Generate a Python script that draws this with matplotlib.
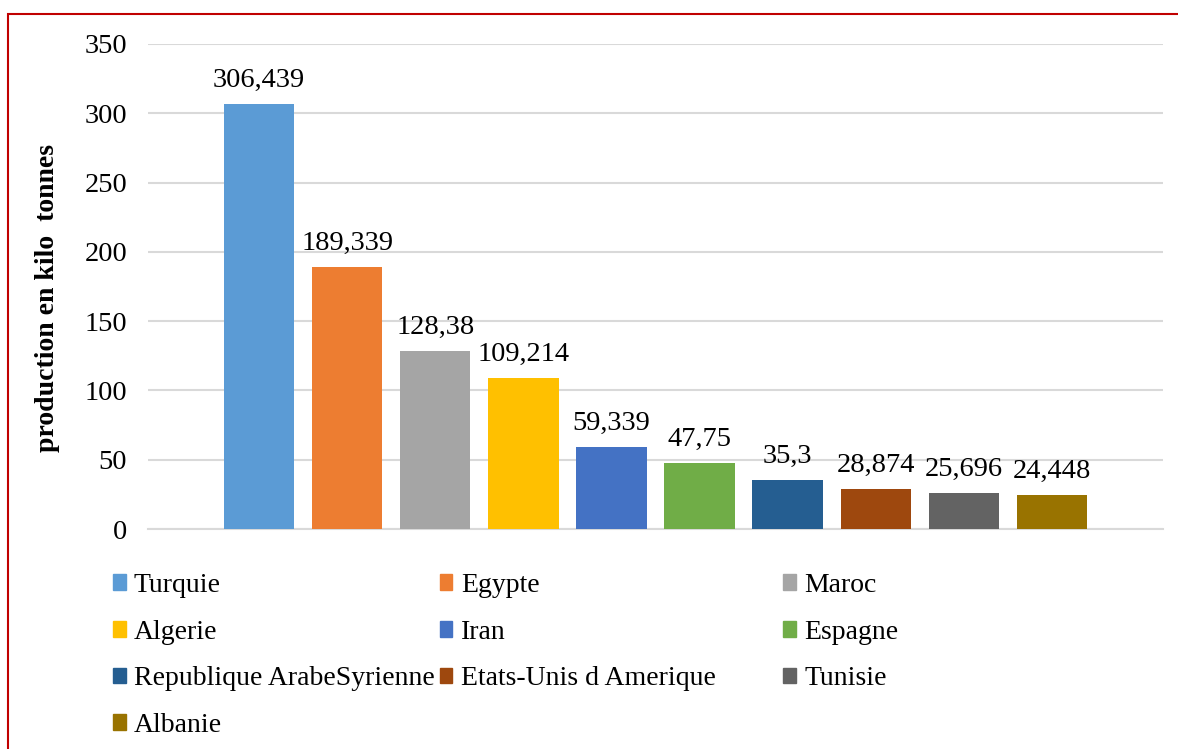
import matplotlib.pyplot as plt
from matplotlib.patches import Patch, Rectangle

pays = ['Turquie', 'Egypte', 'Maroc', 'Algerie', 'Iran', 'Espagne',
        'Republique ArabeSyrienne', 'Etats-Unis d Amerique', 'Tunisie', 'Albanie']
production = [306.439, 189.339, 128.38, 109.214, 59.339, 47.75, 35.3, 28.874, 25.696, 24.448]
couleurs = ['#5B9BD5', '#ED7D31', '#A5A5A5', '#FFC000', '#4472C4', '#70AD47',
            '#255E91', '#9E480E', '#636363', '#997300']

plt.rcParams['font.family'] = ['Liberation Serif', 'DejaVu Serif']

fig = plt.figure(figsize=(11.78, 7.49), dpi=100)
ax = fig.add_axes([0.1256, 0.2937, 0.8617, 0.6476])

x = list(range(len(pays)))
bars = ax.bar(x, production, width=0.8, color=couleurs, zorder=3)

for b, v in zip(bars, production):
    txt = str(v).replace('.', ',')
    ax.annotate(txt, (b.get_x() + b.get_width() / 2, v), xytext=(0, 8),
                textcoords='offset points', ha='center', va='bottom', fontsize=20.5)

ax.set_xlim(-1.26, len(pays) - 1 + 1.26)
ax.set_ylim(0, 350)
ax.set_yticks(range(0, 351, 50))
ax.set_xticks([])
ax.tick_params(axis='y', length=0, labelsize=20.5, pad=15)
ax.grid(axis='y', color='#D9D9D9', linewidth=1.5, zorder=0)
for s in ['top', 'right', 'left']:
    ax.spines[s].set_visible(False)
ax.spines['bottom'].set_color('#D9D9D9')
ax.spines['bottom'].set_linewidth(1.5)
ax.set_ylabel('production en kilo  tonnes', fontsize=20, fontweight='bold')
ax.yaxis.set_label_coords(-0.087, 0.476)

# legende en 3 colonnes (comme Excel)
colonnes = [[0, 3, 6, 9], [1, 4, 7], [2, 5, 8]]
positions = [0.096, 0.3735, 0.665]
for idx, xpos in zip(colonnes, positions):
    handles = [Patch(color=couleurs[i], label=pays[i]) for i in idx]
    leg = fig.legend(handles=handles, loc='upper left', bbox_to_anchor=(xpos, 0.235),
                     frameon=False, fontsize=20, handlelength=0.45, handleheight=0.5,
                     handletextpad=0.3, labelspacing=0.78, borderpad=0, borderaxespad=0)

# cadre rouge
fig.patches.append(Rectangle((8 / 1178, -0.1), 1.2, 1 - 14 / 749 + 0.1,
                             transform=fig.transFigure, fill=False,
                             edgecolor='#C00000', linewidth=1.5))

fig.savefig('out.png', dpi=100)
